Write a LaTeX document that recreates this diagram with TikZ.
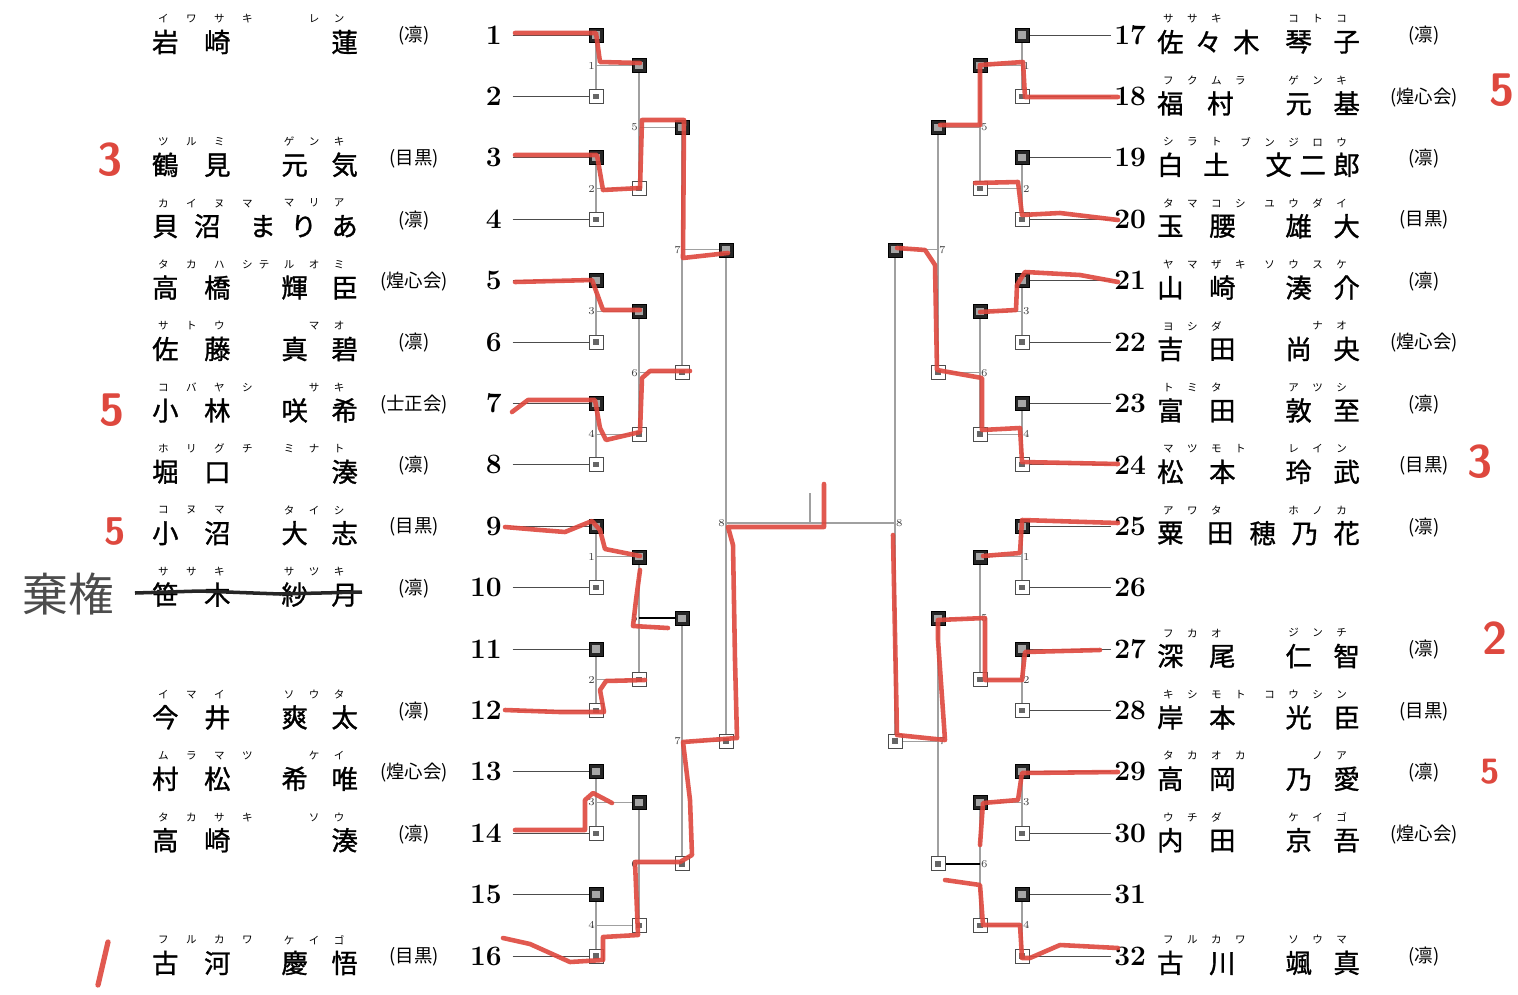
\documentclass[tikz,border=0pt]{standalone}
\usepackage{fontspec}
\newfontfamily\jp{Noto Sans CJK JP}
\newfontfamily\jpheavy{Noto Sans CJK JP}[FakeBold=1.2]
\usetikzlibrary{backgrounds}
\definecolor{penred}{RGB}{222,72,62}
\definecolor{linegray}{RGB}{160,160,160}
\newdimen\px \px=0.02cm
\makeatletter
\newdimen\pch@w
% set each character in a box of fixed pitch
\newcommand\pitched[2]{\setlength\pch@w{#1\px}\edef\pch@list{#2}\expandafter\pch@loop\pch@list\relax}
\def\pch@loop#1{\ifx#1\relax\expandafter\@gobble\else\expandafter\@firstofone\fi{\makebox[\pch@w]{#1}\pch@loop}}
\makeatother

\begin{document}
\begin{tikzpicture}[x=0.02cm, y=-0.02cm,
    kanji/.style={font=\jpheavy\fontsize{15}{15}\selectfont, inner sep=0pt},
    ruby/.style={font=\jp\fontsize{6}{6}\selectfont, inner sep=0pt},
    club/.style={font=\jp\fontsize{10.5}{10.5}\selectfont, inner sep=0pt},
    num/.style={font=\fontsize{16}{16}\selectfont\bfseries, inner sep=0pt},
    mlabel/.style={font=\fontsize{6}{6}\selectfont, text=black!75, inner sep=0.5pt},
    akabox/.style={draw=black, fill=black!85, minimum size=14\px, inner sep=0pt,
        path picture={\fill[black!35] ([shift={(-2pt,-2pt)}]path picture bounding box.center) rectangle ([shift={(2pt,2pt)}]path picture bounding box.center);}},
    shirobox/.style={draw=black!70, fill=white, minimum size=14\px, inner sep=0pt, line width=0.5pt,
        path picture={\fill[black!60] ([shift={(-1.5pt,-1.5pt)}]path picture bounding box.center) rectangle ([shift={(1.5pt,1.5pt)}]path picture bounding box.center);}},
    entry/.style={draw=black!70, line width=0.5pt},
    conn/.style={draw=linegray, line width=0.6pt},
    ink/.style={draw=black, line width=1.1pt},
    pen/.style={draw=penred, line width=2.6pt, line cap=round, line join=round, opacity=.9},
    redmark/.style={font=\sffamily\bfseries\fontsize{26}{26}\selectfont, text=penred, inner sep=0pt},
]
\useasboundingbox (0,0) rectangle (1518,994);

% Names, left half
\foreach \i/\fa/\gi/\fr/\gr/\cl/\fp/\gp in {
    1/岩崎/蓮/イワサキ/レン/凛/52/50,
    3/鶴見/元気/ツルミ/ゲンキ/目黒/52/50,
    4/貝沼/まりあ/カイヌマ/マリア/凛/42/41,
    5/高橋/輝臣/タカハシ/テルオミ/煌心会/52/50,
    6/佐藤/真碧/サトウ/マオ/凛/52/50,
    7/小林/咲希/コバヤシ/サキ/士正会/52/50,
    8/堀口/湊/ホリグチ/ミナト/凛/52/50,
    9/小沼/大志/コヌマ/タイシ/目黒/52/50,
    10/笹木/紗月/ササキ/サツキ/凛/52/50,
    12/今井/爽太/イマイ/ソウタ/凛/52/50,
    13/村松/希唯/ムラマツ/ケイ/煌心会/52/50,
    14/高崎/湊/タカサキ/ソウ/凛/52/50,
    16/古河/慶悟/フルカワ/ケイゴ/目黒/52/50}{
    \pgfmathsetmacro\y{35+(\i-1)*61.4}
    \node[kanji, anchor=west] (Lf-\i) at ({165-\fp/2}, \y+7) {\pitched{\fp}{\fa}};
    \node[kanji, anchor=east] (Lg-\i) at ({345+\gp/2}, \y+7) {\pitched{\gp}{\gi}};
    \node[ruby, anchor=west] (Lfr-\i) at (149, \y-16) {\pitched{28}{\fr}};
    \node[ruby, anchor=east] (Lgr-\i) at (352, \y-16) {\pitched{25}{\gr}};
    \node[club] (Lc-\i) at (414, \y+1) {(\cl)};
}

% Names, right half
\foreach \i/\fa/\gi/\fr/\gr/\cl/\fp/\gp in {
    1/佐々木/琴子/ササキ/コトコ/凛/38/48,
    2/福村/元基/フクムラ/ゲンキ/煌心会/50/48,
    3/白土/文二郎/シラト/ブンジロウ/凛/46/34,
    4/玉腰/雄大/タマコシ/ユウダイ/目黒/52/48,
    5/山崎/湊介/ヤマザキ/ソウスケ/凛/52/48,
    6/吉田/尚央/ヨシダ/ナオ/煌心会/52/48,
    7/富田/敦至/トミタ/アツシ/凛/52/48,
    8/松本/玲武/マツモト/レイン/目黒/52/48,
    9/粟田/穂乃花/アワタ/ホノカ/凛/50/42,
    11/深尾/仁智/フカオ/ジンチ/凛/52/48,
    12/岸本/光臣/キシモト/コウシン/目黒/52/48,
    13/高岡/乃愛/タカオカ/ノア/凛/52/48,
    14/内田/京吾/ウチダ/ケイゴ/煌心会/52/48,
    16/古川/颯真/フルカワ/ソウマ/凛/52/48}{
    \pgfmathsetmacro\y{35+(\i-1)*61.4}
    \node[kanji, anchor=west] (Rf-\i) at ({1170-\fp/2}, \y+7) {\pitched{\fp}{\fa}};
    \node[kanji, anchor=east] (Rg-\i) at ({1347+\gp/2}, \y+7) {\pitched{\gp}{\gi}};
    \node[ruby, anchor=west] (Rfr-\i) at (1156, \y-16) {\pitched{24}{\fr}};
    \node[ruby, anchor=east] (Rgr-\i) at (1354, \y-16) {\pitched{24}{\gr}};
    \node[club] (Rc-\i) at (1424, \y+1) {(\cl)};
}

% Entry numbers and first-round boxes
\foreach \i in {1,...,16}{
    \pgfmathsetmacro\y{35+(\i-1)*61.4}
    \pgfmathtruncatemacro\n{\i+16}
    \ifodd\i \def\bx{akabox}\else\def\bx{shirobox}\fi
    \node[num, anchor=east] (Ln-\i) at (502,\y) {\i};
    \node[num, anchor=west] (Rn-\i) at (1114,\y) {\n};
    \node[\bx] (L1-\i) at (596,\y) {};
    \node[\bx] (R1-\i) at (1022,\y) {};
}
% Later rounds
\foreach \k in {1,...,8}{
    \pgfmathsetmacro\y{35+(2*\k-1.5)*61.4}
    \ifodd\k \def\bx{akabox}\else\def\bx{shirobox}\fi
    \node[\bx] (L2-\k) at (639,\y) {};
    \node[\bx] (R2-\k) at (980,\y) {};
}
\foreach \k in {1,...,4}{
    \pgfmathsetmacro\y{35+(4*\k-2.5)*61.4}
    \ifodd\k \def\bx{akabox}\else\def\bx{shirobox}\fi
    \node[\bx] (L3-\k) at (682,\y) {};
    \node[\bx] (R3-\k) at (938,\y) {};
}
\foreach \k in {1,2}{
    \pgfmathsetmacro\y{35+(8*\k-4.5)*61.4}
    \ifodd\k \def\bx{akabox}\else\def\bx{shirobox}\fi
    \node[\bx] (L4-\k) at (726,\y) {};
    \node[\bx] (R4-\k) at (895,\y) {};
}
\coordinate (mid) at (810,523);
\coordinate (tick) at (810,493);

% Bracket lines
\begin{pgfonlayer}{background}
    \fill[white] (0,0) rectangle (1518,994);
    \foreach \i in {1,...,16}{
        \draw[entry] ([xshift=6pt]Ln-\i.east) -- (L1-\i);
        \draw[entry] (R1-\i) -- ([xshift=-1.5pt]Rn-\i.west);
    }
    \foreach \k in {1,...,8}{
        \pgfmathtruncatemacro\a{2*\k-1}
        \pgfmathtruncatemacro\b{2*\k}
        \pgfmathtruncatemacro\m{mod(\k-1,4)+1}
        \draw[conn] (L1-\a) -- (L1-\b);
        \draw[conn] (L1-\a |- L2-\k) -- (L2-\k);
        \draw[conn] (R1-\a) -- (R1-\b);
        \draw[conn] (R1-\a |- R2-\k) -- (R2-\k);
        \node[mlabel, left] (mL1-\k) at (L1-\a |- L2-\k) {\m};
        \node[mlabel, right] (mR1-\k) at (R1-\a |- R2-\k) {\m};
    }
    \foreach \k in {1,...,4}{
        \pgfmathtruncatemacro\a{2*\k-1}
        \pgfmathtruncatemacro\b{2*\k}
        \pgfmathtruncatemacro\m{mod(\k-1,2)+5}
        \draw[conn] (L2-\a) -- (L2-\b);
        \draw[conn] (L2-\a |- L3-\k) -- (L3-\k);
        \draw[conn] (R2-\a) -- (R2-\b);
        \draw[conn] (R2-\a |- R3-\k) -- (R3-\k);
        \node[mlabel, left] (mL2-\k) at (L2-\a |- L3-\k) {\m};
        \node[mlabel, right] (mR2-\k) at (R2-\a |- R3-\k) {\m};
    }
    \foreach \k in {1,2}{
        \pgfmathtruncatemacro\a{2*\k-1}
        \pgfmathtruncatemacro\b{2*\k}
        \draw[conn] (L3-\a) -- (L3-\b);
        \draw[conn] (L3-\a |- L4-\k) -- (L4-\k);
        \draw[conn] (R3-\a) -- (R3-\b);
        \draw[conn] (R3-\a |- R4-\k) -- (R4-\k);
        \node[mlabel, left] (mL3-\k) at (L3-\a |- L4-\k) {7};
        \node[mlabel, right] (mR3-\k) at (R3-\a |- R4-\k) {7};
    }
    \draw[conn] (L4-1) -- (L4-2);
    \draw[conn] (R4-1) -- (R4-2);
    \draw[conn] (L4-1 |- mid) -- (R4-1 |- mid);
    \draw[conn] (tick) -- (mid);
    \node[mlabel, left] (mL4) at (L4-1 |- mid) {8};
    \node[mlabel, right] (mR4) at (R4-1 |- mid) {8};
    \draw[ink] (L2-5 |- L3-3) -- (L3-3);
    \draw[ink] (R2-7 |- R3-4) -- (R3-4);
\end{pgfonlayer}

% Withdrawal
\draw[black!85, line width=2pt] (135,593) -- (200,591) -- (280,594) -- (362,592);
\node[font=\jp\fontsize{26}{26}\selectfont, text=black!70, inner sep=0pt] (kiken) at (68,594) {棄権};

% Red pen, left half
\draw[pen] (515,33) -- (596,33) -- (600,62) -- (640,63);
\draw[pen] (515,155) -- (597,155) -- (603,190) -- (640,188) -- (642,120) -- (684,120) -- (683,258) -- (728,253);
\draw[pen] (515,282) -- (592,280) -- (603,310) -- (640,310);
\draw[pen] (512,412) -- (528,400) -- (595,400) -- (600,428) -- (606,440) -- (640,432) -- (642,378) -- (650,371) -- (690,371);
\draw[pen] (505,527) -- (540,530) -- (565,532) -- (592,521) -- (600,530) -- (605,549) -- (640,556);
\draw[pen] (640,570) -- (636,600) -- (633,626) -- (668,628);
\draw[pen] (505,710) -- (560,712) -- (604,712) -- (600,690) -- (606,681) -- (645,680);
\draw[pen] (515,830) -- (585,830) -- (585,800) -- (593,793) -- (612,803);
\draw[pen] (503,938) -- (530,944) -- (570,962) -- (603,960) -- (603,937) -- (638,935) -- (635,862) -- (680,862)
    -- (692,855) -- (690,800) -- (683,742) -- (737,738) -- (735,660) -- (733,545) -- (728,527) -- (824,527) -- (824,484);

% Red pen, right half
\draw[pen] (1118,97) -- (1025,97) -- (1023,62) -- (980,65) -- (980,125) -- (940,125);
\draw[pen] (975,183) -- (1018,182) -- (1022,215) -- (1060,213) -- (1118,220);
\draw[pen] (1118,282) -- (1080,275) -- (1025,272) -- (1017,285) -- (1016,310) -- (980,312);
\draw[pen] (897,248) -- (925,250) -- (935,265) -- (937,370) -- (982,378) -- (982,430) -- (1020,428) -- (1022,462) -- (1118,464);
\draw[pen] (1118,523) -- (1022,520) -- (1020,553) -- (983,556);
\draw[pen] (893,535) -- (897,735) -- (945,740) -- (938,640) -- (938,620) -- (985,618) -- (985,680) -- (1022,680) -- (1025,652) -- (1100,650);
\draw[pen] (1118,772) -- (1022,773) -- (1018,800) -- (983,803) -- (980,845);
\draw[pen] (1118,948) -- (1060,945) -- (1030,958) -- (1022,958) -- (1020,925) -- (983,925) -- (980,885) -- (945,880);

% Red marks
\node[redmark] (rk3) at (110,160) {3};
\node[redmark] (rk5a) at (112,410) {5};
\node[redmark, font=\sffamily\bfseries\fontsize{22}{22}\selectfont] (rk5b) at (115,532) {5};
\draw[pen, line width=3pt] (108,942) -- (98,985);
\node[redmark] (rk5c) at (1502,90) {5};
\node[redmark] (rk3r) at (1480,462) {3};
\node[redmark] (rk2) at (1495,638) {2};
\node[redmark, font=\sffamily\bfseries\fontsize{20}{20}\selectfont] (rk5d) at (1490,772) {5};
\end{tikzpicture}
\end{document}
